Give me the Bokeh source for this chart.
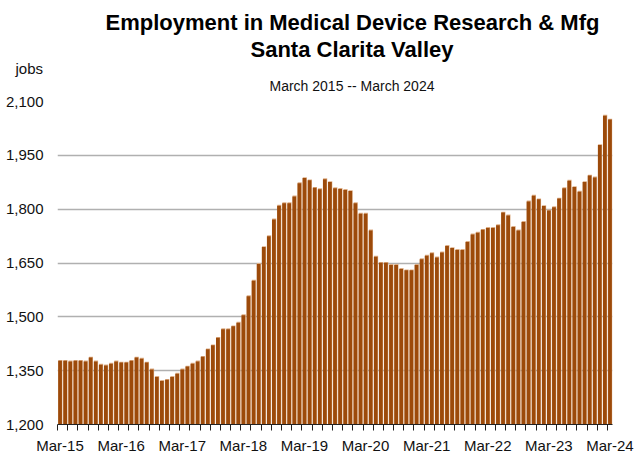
from bokeh.plotting import figure
from bokeh.models import ColumnDataSource, Range1d, FixedTicker, Title
from bokeh.embed import file_html
from bokeh.resources import INLINE

# ---- data ----
jobs = [
    1380, 1380, 1378, 1380, 1380, 1378, 1389, 1378, 1369, 1367, 1372, 1378,   # Mar-15 .. Feb-16
    1375, 1375, 1380, 1389, 1386, 1375, 1356, 1335, 1324, 1327, 1335, 1344,   # Mar-16 .. Feb-17
    1356, 1364, 1372, 1378, 1391, 1412, 1423, 1444, 1468, 1468, 1476, 1486,   # Mar-17 .. Feb-18
    1507, 1560, 1603, 1650, 1697, 1727, 1774, 1812, 1819, 1819, 1838, 1875,   # Mar-18 .. Feb-19
    1889, 1883, 1862, 1858, 1886, 1878, 1861, 1859, 1856, 1853, 1819, 1790,   # Mar-19 .. Feb-20
    1790, 1743, 1670, 1653, 1653, 1647, 1647, 1636, 1632, 1632, 1647, 1663,   # Mar-20 .. Feb-21
    1673, 1680, 1668, 1682, 1700, 1694, 1689, 1689, 1711, 1732, 1737, 1745,   # Mar-21 .. Feb-22
    1750, 1750, 1758, 1793, 1785, 1753, 1743, 1767, 1824, 1840, 1830, 1811,   # Mar-22 .. Feb-23
    1799, 1808, 1832, 1861, 1882, 1864, 1851, 1878, 1896, 1891, 1981, 2063,   # Mar-23 .. Feb-24
    2052,                                                                     # Mar-24
]
year_labels = ["Mar-15", "Mar-16", "Mar-17", "Mar-18", "Mar-19",
               "Mar-20", "Mar-21", "Mar-22", "Mar-23", "Mar-24"]
y_ticks = [1200, 1350, 1500, 1650, 1800, 1950, 2100]

title1 = "Employment in Medical Device Research & Mfg"
title2 = "Santa Clarita Valley"
subtitle = "March 2015 -- March 2024"
unit_label = "jobs"

Y_MIN, Y_MAX = 1200, 2100
n = len(jobs)
xs = list(range(n))

FONT = "Liberation Sans"
DARK = "#9C4A0A"
LIGHT = "#DDAE86"

src = ColumnDataSource(dict(
    x=xs,
    x_hi=[x + 0.07 for x in xs],
    top=jobs,
    top_in=[v - 2.5 for v in jobs],
))

p = figure(frame_width=555, frame_height=323,
           min_border_left=57, min_border_right=22,
           min_border_top=101, min_border_bottom=33,
           x_range=Range1d(-0.5, n - 0.5), y_range=Range1d(Y_MIN, Y_MAX),
           output_backend="svg", toolbar_location=None,
           background_fill_color="white", border_fill_color="white")
p.outline_line_color = None

# titles: p.title is the outermost row, added rows stack outward from the plot
p.title.text = title1
p.title.align = "left"
p.title.offset = 48
p.title.text_font = FONT
p.title.text_font_style = "bold"
p.title.text_font_size = "22px"
p.title.text_color = "#000000"
p.title.standoff = -11
p.add_layout(Title(text=subtitle, align="left", offset=212, text_font=FONT,
                   text_font_style="normal", text_font_size="14px",
                   text_color="#111111", standoff=16), "above")
p.add_layout(Title(text=unit_label, align="left", offset=-42, text_font=FONT,
                   text_font_style="normal", text_font_size="15px",
                   text_color="#111111", standoff=-18), "above")
p.add_layout(Title(text=title2, align="left", offset=193, text_font=FONT,
                   text_font_style="bold", text_font_size="22px",
                   text_color="#000000", standoff=10), "above")

# bars: light edge behind, dark body in front
p.vbar(x="x_hi", top="top", bottom=Y_MIN, width=0.8, source=src,
       fill_color=LIGHT, line_color=None)
p.vbar(x="x", top="top_in", bottom=Y_MIN, width=0.74, source=src,
       fill_color=DARK, line_color=None)

# grid
p.xgrid.grid_line_color = None
p.ygrid.grid_line_color = "#b0b0b0"
p.ygrid.grid_line_width = 1.5
p.ygrid.ticker = FixedTicker(ticks=y_ticks)

# y axis
p.yaxis.ticker = FixedTicker(ticks=y_ticks)
p.yaxis.major_label_overrides = {t: f"{t:,}" for t in y_ticks}
p.yaxis.axis_line_color = None
p.yaxis.major_tick_line_color = None
p.yaxis.minor_tick_line_color = None
p.yaxis.major_tick_out = 0
p.yaxis.major_label_standoff = 14
p.yaxis.major_label_text_font = FONT
p.yaxis.major_label_text_font_size = "15px"
p.yaxis.major_label_text_color = "#111111"

# x axis
label_pos = [12 * i for i in range(len(year_labels))]
boundary_ticks = [b - 0.5 for b in range(0, n, 2)]
p.xaxis.ticker = FixedTicker(ticks=label_pos, minor_ticks=boundary_ticks)
p.xaxis.major_label_overrides = {pos: lab for pos, lab in zip(label_pos, year_labels)}
p.xaxis.axis_line_color = "#222222"
p.xaxis.axis_line_width = 1
p.xaxis.major_tick_line_color = None
p.xaxis.major_tick_out = 0
p.xaxis.major_tick_in = 0
p.xaxis.minor_tick_line_color = "#222222"
p.xaxis.minor_tick_out = 6
p.xaxis.minor_tick_in = 0
p.xaxis.major_label_standoff = 6
p.xaxis.major_label_text_font = FONT
p.xaxis.major_label_text_font_size = "15px"
p.xaxis.major_label_text_color = "#111111"

open("out.html", "w").write(file_html(p, INLINE))
